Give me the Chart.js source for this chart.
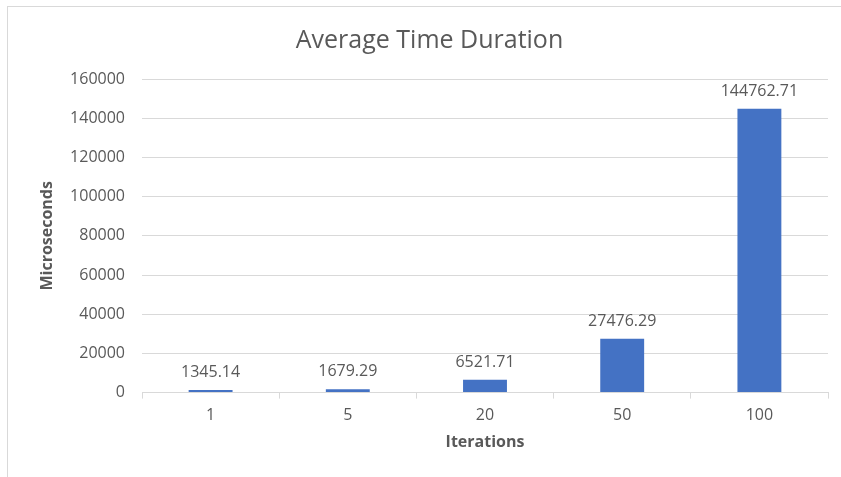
<!DOCTYPE html>
<html>
<head>
<meta charset="utf-8">
<script src="https://cdn.jsdelivr.net/npm/chart.js@4"></script>
<style>
  html, body { margin: 0; padding: 0; background: #ffffff; overflow: hidden; }
  #frame {
    position: absolute;
    left: 7px;
    top: 6px;
    width: 844px;
    height: 480px;
    border: 1px solid #d9d9d9;
    box-sizing: border-box;
  }
  #chart-wrap { position: absolute; left: 0; top: 0; width: 843px; height: 471px; }
</style>
</head>
<body>
<div id="frame">
  <div id="chart-wrap"><canvas id="chart"></canvas></div>
</div>
<script>
  // Chart data
  const categories = ["1", "5", "20", "50", "100"];
  const durations = [1345.14, 1679.29, 6521.71, 27476.29, 144762.71];
  const yMax = 160000;
  const yStep = 20000;

  const textColor = "#595959";
  const gridColor = "#d9d9d9";
  const barColor = "#4472c4";
  const fontFamily = "'Open Sans', 'Noto Sans', sans-serif";

  // Draw the value above each bar
  const valueLabels = {
    id: "valueLabels",
    afterDatasetsDraw(chart) {
      const ctx = chart.ctx;
      const meta = chart.getDatasetMeta(0);
      ctx.save();
      ctx.font = "16px " + fontFamily;
      ctx.fillStyle = textColor;
      ctx.textAlign = "center";
      ctx.textBaseline = "alphabetic";
      meta.data.forEach((bar, i) => {
        ctx.fillText(durations[i].toFixed(2), bar.x, bar.y - 13);
      });
      ctx.restore();
    },
  };

  const ctx = document.getElementById("chart").getContext("2d");
  new Chart(ctx, {
    type: "bar",
    data: {
      labels: categories,
      datasets: [
        {
          data: durations,
          backgroundColor: barColor,
          borderWidth: 0,
          barPercentage: 0.32,
          categoryPercentage: 1,
        },
      ],
    },
    options: {
      responsive: true,
      maintainAspectRatio: false,
      animation: false,
      layout: { padding: { left: 23, right: 23, top: 0, bottom: 26 } },
      plugins: {
        legend: { display: false },
        tooltip: { enabled: false },
        title: {
          display: true,
          text: "Average Time Duration",
          color: textColor,
          font: { family: fontFamily, size: 25, weight: "normal" },
          padding: { top: 19, bottom: 23 },
        },
      },
      scales: {
        x: {
          grid: {
            offset: true,
            drawOnChartArea: false,
            color: gridColor,
            tickLength: 6,
          },
          border: { color: gridColor },
          ticks: {
            color: textColor,
            font: { family: fontFamily, size: 16 },
            padding: 7,
          },
          title: {
            display: true,
            text: "Iterations",
            color: textColor,
            font: { family: fontFamily, size: 16, weight: "bold" },
            padding: { top: 1, bottom: 0 },
          },
        },
        y: {
          min: 0,
          max: yMax,
          afterFit(scale) {
            scale.width = 111;
          },
          grid: { color: gridColor, drawTicks: false },
          border: { display: false },
          ticks: {
            stepSize: yStep,
            color: textColor,
            font: { family: fontFamily, size: 16 },
            padding: 17,
            callback: (value) => String(value),
          },
          title: {
            display: true,
            text: "Microseconds",
            color: textColor,
            font: { family: fontFamily, size: 16, weight: "bold" },
            padding: { top: 7, bottom: 0 },
          },
        },
      },
    },
    plugins: [valueLabels],
  });
</script>
</body>
</html>
